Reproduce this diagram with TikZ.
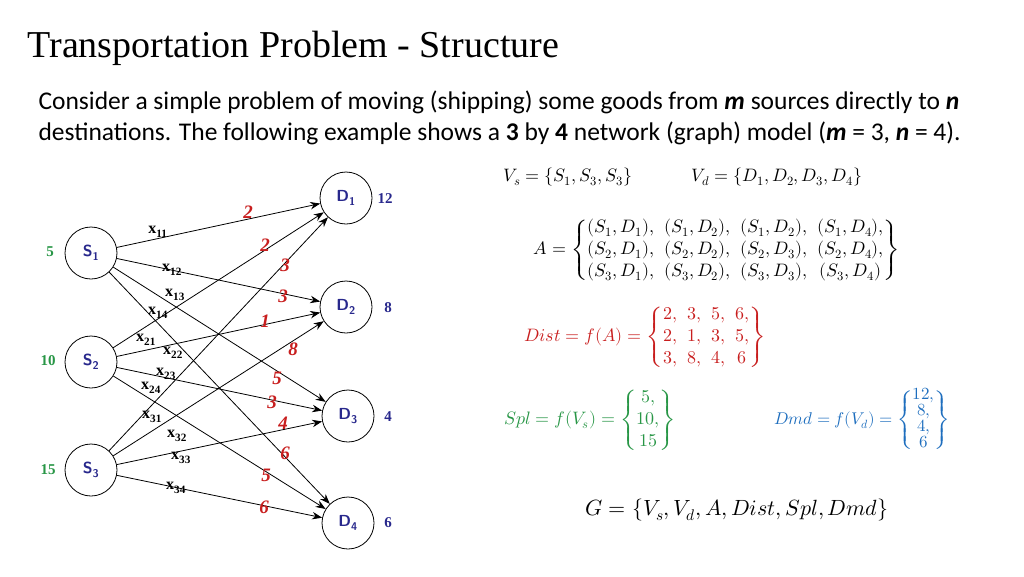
\documentclass[tikz,border=0pt]{standalone}
\usepackage{amsmath}
\usepackage{fontspec}
\usepackage{unicode-math}
\setmainfont{Carlito}
\setmathfont{Latin Modern Math}
\newfontfamily\timesfont{Liberation Serif}
\usetikzlibrary{arrows.meta}
\definecolor{costred}{RGB}{200,30,30}
\definecolor{splgreen}{RGB}{40,150,70}
\definecolor{dmdblue}{RGB}{30,110,190}
\definecolor{nodeblue}{RGB}{40,40,140}
\tikzset{
  vertex/.style={draw,circle,thick,minimum size=52pt,inner sep=0pt,font=\fontsize{16}{16}\selectfont\bfseries\sffamily,text=nodeblue},
  flow/.style={thick,-{Stealth[length=10pt]}},
  xlab/.style={font=\timesfont\fontsize{16}{16}\selectfont\bfseries},
  cost/.style={font=\timesfont\fontsize{19}{19}\selectfont\bfseries\itshape,text=costred},
  supply/.style={font=\timesfont\fontsize{15}{15}\selectfont\bfseries,text=splgreen},
  demand/.style={font=\timesfont\fontsize{15}{15}\selectfont\bfseries,text=nodeblue},
  formula/.style={font=\fontsize{18}{22}\selectfont}
}
\begin{document}
\begin{tikzpicture}[x=1pt,y=-1pt]
    \useasboundingbox (0,0) rectangle (1024,576);

    \node[anchor=west,font=\timesfont\fontsize{38}{38}\selectfont] (title) at (24,48) {Transportation Problem - Structure};
    \node[anchor=west,font=\fontsize{25.5}{25.5}\selectfont] (line1) at (35,102)
        {Consider a simple problem of moving (shipping) some goods from \textbf{\textit{m}} sources directly to \textbf{\textit{n}}};
    \node[anchor=west,font=\fontsize{25.5}{25.5}\selectfont] (line2) at (35,133)
        {destinations. The following example shows a \textbf{3} by \textbf{4} network (graph) model (\textbf{\textit{m}} = 3, \textbf{\textit{n}} = 4).};

    % sources and destinations
    \node[vertex] (s1) at (91,253) {S\textsubscript{1}};
    \node[vertex] (s2) at (91,362) {S\textsubscript{2}};
    \node[vertex] (s3) at (91,470) {S\textsubscript{3}};
    \node[vertex] (d1) at (346,198) {D\textsubscript{1}};
    \node[vertex] (d2) at (346,307) {D\textsubscript{2}};
    \node[vertex] (d3) at (348,416) {D\textsubscript{3}};
    \node[vertex] (d4) at (348,523) {D\textsubscript{4}};

    \foreach \s in {1,2,3}
        \foreach \d in {1,2,3,4}
            \draw[flow] (s\s) -- (d\d);

    \node[supply] (sp1) at (50,252) {5};
    \node[supply] (sp2) at (48,361) {10};
    \node[supply] (sp3) at (48,470) {15};
    \node[demand] (dm1) at (385,199) {12};
    \node[demand] (dm2) at (388,308) {8};
    \node[demand] (dm3) at (388,417) {4};
    \node[demand] (dm4) at (388,523) {6};

    % flow variables
    \node[xlab] at (158,232) {x\textsubscript{11}};
    \node[xlab] at (172,270) {x\textsubscript{12}};
    \node[xlab] at (175,295) {x\textsubscript{13}};
    \node[xlab] at (158,313) {x\textsubscript{14}};
    \node[xlab] at (146,340) {x\textsubscript{21}};
    \node[xlab] at (173,353) {x\textsubscript{22}};
    \node[xlab] at (166,374) {x\textsubscript{23}};
    \node[xlab] at (151,388) {x\textsubscript{24}};
    \node[xlab] at (152,417) {x\textsubscript{31}};
    \node[xlab] at (177,436) {x\textsubscript{32}};
    \node[xlab] at (181,458) {x\textsubscript{33}};
    \node[xlab] at (176,488) {x\textsubscript{34}};

    % costs
    \node[cost] at (248,212) {2};
    \node[cost] at (265,245) {2};
    \node[cost] at (285,265) {3};
    \node[cost] at (283,296) {3};
    \node[cost] at (265,321) {1};
    \node[cost] at (293,349) {8};
    \node[cost] at (277,378) {5};
    \node[cost] at (272,402) {3};
    \node[cost] at (283,423) {4};
    \node[cost] at (285,453) {6};
    \node[cost] at (266,475) {5};
    \node[cost] at (264,507) {6};

    % model
    \node[formula] (vs) at (568,177) {$V_s=\{S_1,S_3,S_3\}$};
    \node[formula] (vd) at (777,177) {$V_d=\{D_1,D_2,D_3,D_4\}$};
    \node[formula] (aset) at (717,250) {$A=\begin{Bmatrix}(S_1,D_1), & (S_1,D_2), & (S_1,D_2), & (S_1,D_4),\\ (S_2,D_1), & (S_2,D_2), & (S_2,D_3), & (S_2,D_4),\\ (S_3,D_1), & (S_3,D_2), & (S_3,D_3), & (S_3,D_4)\end{Bmatrix}$};
    \node[formula,text=costred] (dist) at (645,337) {$Dist=f(A)=\begin{Bmatrix}2, & 3, & 5, & 6,\\ 2, & 1, & 3, & 5,\\ 3, & 8, & 4, & 6\end{Bmatrix}$};
    \node[formula,text=splgreen] (spl) at (590,420) {$Spl=f(V_s)=\begin{Bmatrix}5,\\ 10,\\ 15\end{Bmatrix}$};
    \node[formula,text=dmdblue,font=\fontsize{17}{18}\selectfont] (dmd) at (862,420) {\renewcommand{\arraystretch}{0.85}$Dmd=f(V_d)=\begin{Bmatrix}12,\\ 8,\\ 4,\\ 6\end{Bmatrix}$};
    \node[font=\fontsize{22}{24}\selectfont] (graph) at (737,510) {$G=\{V_s,V_d,A,Dist,Spl,Dmd\}$};
\end{tikzpicture}
\end{document}
